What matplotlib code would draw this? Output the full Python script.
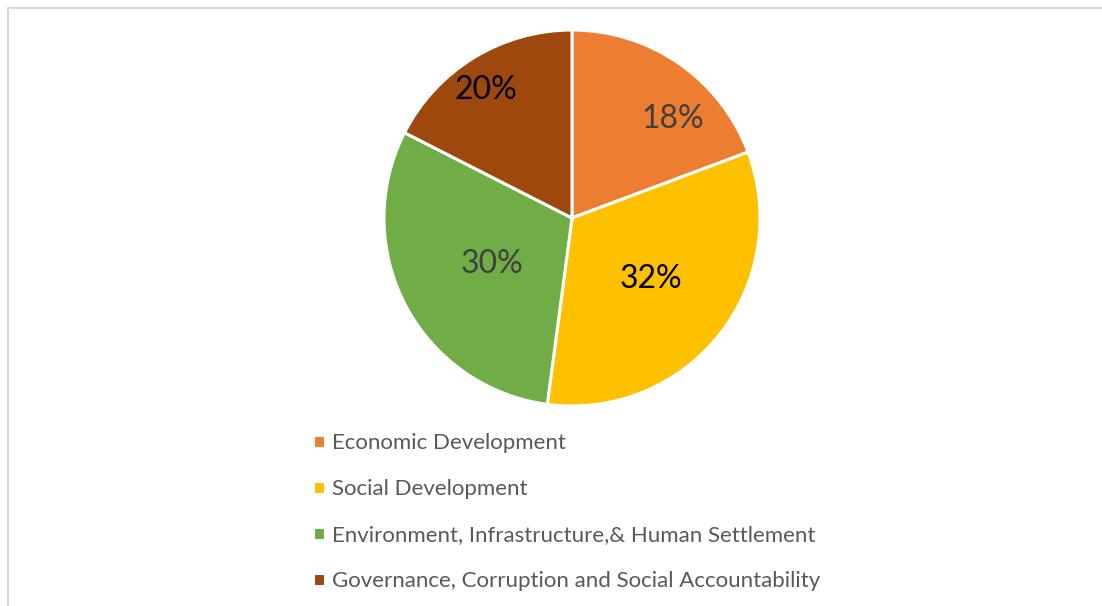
import matplotlib.pyplot as plt
from matplotlib.lines import Line2D
import numpy as np

W, H = 1102, 606

categories = ["Economic Development", "Social Development",
              "Environment, Infrastructure,& Human Settlement",
              "Governance, Corruption and Social Accountability"]
shares = [19.3, 32.8, 30.4, 17.5]          # slice sizes as drawn
pct_labels = ["18%", "32%", "30%", "20%"]  # labels as printed on the chart
colors = ["#ED7D31", "#FFC000", "#70AD47", "#9E480E"]
label_colors = ["#404040", "black", "#404040", "black"]

plt.rcParams['font.family'] = ['Lato', 'DejaVu Sans']

fig = plt.figure(figsize=(W / 100, H / 100), dpi=100)

# light grey frame (only left and top visible)
fig.add_artist(Line2D([8 / W, 8 / W], [0, 1 - 8 / H], transform=fig.transFigure,
                      color="#D9D9D9", lw=1.5))
fig.add_artist(Line2D([8 / W, 1], [1 - 8 / H, 1 - 8 / H], transform=fig.transFigure,
                      color="#D9D9D9", lw=1.5))

cx, cy, R = 572, 218, 188
ax = fig.add_axes([(cx - R) / W, (H - cy - R) / H, 2 * R / W, 2 * R / H])
wedges, texts = ax.pie(shares, colors=colors, startangle=90, counterclock=False,
                       radius=1, wedgeprops=dict(edgecolor="white", linewidth=2.2))
ax.set_xlim(-1, 1)
ax.set_ylim(-1, 1)
ax.set_aspect("equal")
ax.axis("off")

# label positions (fraction of radius, angle clockwise from top)
label_r = [0.75, 0.53, 0.49, 0.82]
label_ang = [45.6, 128.0, 240.3, 325.9]
for t, c, r, a in zip(pct_labels, label_colors, label_r, label_ang):
    th = np.deg2rad(a)
    ax.text(r * np.sin(th), r * np.cos(th), t, ha="center", va="center",
            fontsize=23, color=c)

leg = fig.legend(wedges, categories, loc="upper left",
                 bbox_to_anchor=(313 / W, 1 - 433 / H), frameon=False,
                 fontsize=16, handlelength=0.54, handleheight=0.54,
                 handletextpad=0.33, labelspacing=1.17, borderpad=0,
                 borderaxespad=0)
for t in leg.get_texts():
    t.set_color("#595959")

fig.savefig("out.png", dpi=100)
